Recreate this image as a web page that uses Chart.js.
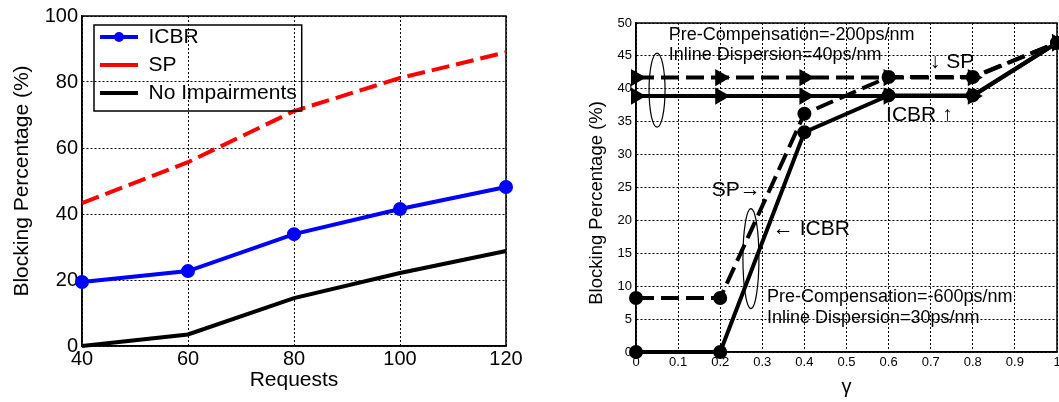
<!DOCTYPE html>
<html>
<head>
<meta charset="utf-8">
<script src="https://cdn.jsdelivr.net/npm/chart.js@4.4.1/dist/chart.umd.min.js"></script>
<style>
  html, body { margin: 0; padding: 0; background: #fff; overflow: hidden; }
  body { width: 1059px; height: 402px; position: relative; }
  canvas { position: absolute; top: 0; }
  #requestsChart { left: 0; }
  #gammaChart { left: 560px; }
</style>
</head>
<body>
<canvas id="requestsChart" width="530" height="402"></canvas>
<canvas id="gammaChart" width="510" height="402"></canvas>
<script>
// left plot: blocking vs number of requests
const requests = [40, 60, 80, 100, 120];
const icbrBlocking = [19.4, 22.7, 33.9, 41.5, 48.2];
const spBlocking = [43.3, 55.7, 71.2, 81.2, 89.0];
const noImpBlocking = [0, 3.5, 14.5, 22.1, 28.8];

// right plot: blocking vs gamma
const gamma = [0, 0.2, 0.4, 0.6, 0.8, 1];
const sp600 = [8.2, 8.2, 36.2, 41.8, 41.8, 47];
const icbr600 = [0, 0, 33.4, 39, 39, 47];
const sp200 = [41.7, 41.7, 41.7, 41.7, 41.7, 47];
const icbr200 = [38.9, 38.9, 38.9, 38.9, 38.9, 47];

Chart.defaults.font.family = '"Liberation Sans", Arial, sans-serif';
Chart.defaults.color = '#000';

const toXY = (xs, ys) => xs.map((x, i) => ({ x: x, y: ys[i] }));

// solid box round the plot area (matlab style)
const frame = {
  id: 'frame',
  beforeDatasetsDraw(chart) {
    const { ctx, chartArea: a } = chart;
    ctx.save();
    ctx.strokeStyle = '#000';
    ctx.lineWidth = 1.5;
    ctx.strokeRect(a.left, a.top, a.right - a.left, a.bottom - a.top);
    ctx.restore();
  }
};

function gridScale(min, max, step, fontSize, pad) {
  return {
    type: 'linear', min: min, max: max,
    ticks: { stepSize: step, font: { size: fontSize }, color: '#000', padding: pad },
    grid: { color: '#000', lineWidth: 1, drawTicks: false },
    border: { display: true, color: '#000', width: 1.5, dash: [2, 2] }
  };
}

// legend sits inside the plot, with a box and a marker on the ICBR entry
const legendBox = {
  id: 'legendBox',
  afterLayout(chart) {
    const lg = chart.legend;
    lg.left = chart.chartArea.left + 11;
    lg.top = chart.chartArea.top + 3.5;
    lg.right = lg.left + lg.width;
    lg.bottom = lg.top + lg.height;
  },
  afterDraw(chart) {
    const boxes = chart.legend.legendHitBoxes;
    if (!boxes.length) return;
    const ctx = chart.ctx;
    const first = boxes[0], last = boxes[boxes.length - 1];
    const right = Math.max(...boxes.map(b => b.left + b.width));
    ctx.save();
    ctx.strokeStyle = '#000';
    ctx.lineWidth = 1.5;
    ctx.strokeRect(first.left - 6, first.top - 1.5, right + 5 - (first.left - 6), last.top + last.height + 7.5 - (first.top - 1.5));
    ctx.fillStyle = '#0000ff';
    ctx.beginPath();
    ctx.arc(first.left + 19, first.top + 10.5, 5, 0, Math.PI * 2);
    ctx.fill();
    ctx.restore();
  }
};

const leftX = gridScale(40, 120, 20, 20, 1);
leftX.title = { display: true, text: 'Requests', font: { size: 21 }, color: '#000', padding: { top: 0, bottom: 9 } };
leftX.afterFit = s => { s.height = 56; };
const leftY = gridScale(0, 100, 20, 20, 4);
leftY.title = { display: true, text: 'Blocking Percentage (%)', font: { size: 21 }, color: '#000', padding: { top: 10, bottom: 0 } };
leftY.afterFit = s => { s.width = 82; };

new Chart(document.getElementById('requestsChart'), {
  type: 'line',
  data: {
    datasets: [
      {
        label: 'ICBR', data: toXY(requests, icbrBlocking),
        borderColor: '#0000ff', backgroundColor: '#0000ff', borderWidth: 4,
        pointRadius: 5, pointBackgroundColor: '#0000ff', pointBorderColor: '#0000ff', clip: false
      },
      {
        label: 'SP', data: toXY(requests, spBlocking),
        borderColor: '#ff0000', backgroundColor: '#ff0000', borderWidth: 4, borderDash: [18, 7],
        pointRadius: 0, clip: false
      },
      {
        label: 'No Impairments', data: toXY(requests, noImpBlocking),
        borderColor: '#000', backgroundColor: '#000', borderWidth: 4,
        pointRadius: 0, clip: false
      }
    ]
  },
  options: {
    responsive: false,
    animation: false,
    layout: { padding: { top: 16, right: 24, left: 0, bottom: 0 } },
    scales: { x: leftX, y: leftY },
    plugins: {
      legend: {
        position: 'chartArea',
        align: 'start',
        labels: {
          usePointStyle: true,
          pointStyleWidth: 38,
          padding: 7,
          color: '#000',
          font: { size: 21 },
          generateLabels: chart => Chart.defaults.plugins.legend.labels.generateLabels(chart)
            .map(item => Object.assign(item, { pointStyle: 'line', rotation: 0 }))
        }
      },
      tooltip: { enabled: false }
    }
  },
  plugins: [frame, legendBox]
});

// text, arrows and ellipses written on the right plot
const notes = {
  id: 'notes',
  afterDatasetsDraw(chart) {
    const { ctx, scales: { x, y } } = chart;
    const put = (text, gx, gy, size) => {
      ctx.font = size + 'px "Liberation Sans", Arial, sans-serif';
      ctx.fillText(text, x.getPixelForValue(gx), y.getPixelForValue(gy));
    };
    ctx.save();
    ctx.fillStyle = '#000';
    ctx.textAlign = 'left';
    ctx.textBaseline = 'middle';
    put('Pre-Compensation=-200ps/nm', 0.078, 48.1, 18);
    put('Inline Dispersion=40ps/nm', 0.078, 45.1, 18);
    put('\u2193 SP', 0.698, 44.0, 21);
    put('ICBR \u2191', 0.594, 36.0, 21);
    put('SP\u2192', 0.18, 24.6, 21);
    put('\u2190 ICBR', 0.325, 18.6, 21);
    put('Pre-Compensation=-600ps/nm', 0.311, 8.3, 18);
    put('Inline Dispersion=30ps/nm', 0.311, 5.1, 18);
    ctx.strokeStyle = '#000';
    ctx.lineWidth = 1.2;
    ctx.beginPath();
    ctx.ellipse(x.getPixelForValue(0.05), y.getPixelForValue(39.8), 8, 37, 0, 0, Math.PI * 2);
    ctx.stroke();
    ctx.beginPath();
    ctx.ellipse(x.getPixelForValue(0.273), y.getPixelForValue(14.2), 8, 50, 0, 0, Math.PI * 2);
    ctx.stroke();
    ctx.restore();
  }
};

const rightX = gridScale(0, 1, 0.1, 13, 3);
rightX.ticks.callback = v => +v.toFixed(1);
rightX.title = { display: true, text: '\u03b3', font: { size: 20 }, color: '#000', padding: { top: 0, bottom: 3 } };
rightX.afterFit = s => { s.height = 50; };
const rightY = gridScale(0, 50, 5, 13, 4);
rightY.title = { display: true, text: 'Blocking Percentage (%)      ', font: { size: 18.5 }, color: '#000', padding: { top: 26, bottom: 0 } };
rightY.afterFit = s => { s.width = 76; };

const blackLine = (label, ys, dashed, marker) => ({
  label: label, data: toXY(gamma, ys),
  borderColor: '#000', backgroundColor: '#000', borderWidth: 4,
  borderDash: dashed ? [18, 7] : [],
  pointStyle: marker, pointRadius: marker === 'triangle' ? 6 : 5,
  pointRotation: marker === 'triangle' ? 90 : 0,
  pointBackgroundColor: '#000', pointBorderColor: '#000', clip: false
});

new Chart(document.getElementById('gammaChart'), {
  type: 'line',
  data: {
    datasets: [
      blackLine('SP, Pre-Compensation=-600ps/nm', sp600, true, 'circle'),
      blackLine('ICBR, Pre-Compensation=-600ps/nm', icbr600, false, 'circle'),
      blackLine('SP, Pre-Compensation=-200ps/nm', sp200, true, 'triangle'),
      blackLine('ICBR, Pre-Compensation=-200ps/nm', icbr200, false, 'triangle')
    ]
  },
  options: {
    responsive: false,
    animation: false,
    layout: { padding: { top: 23, right: 13, left: 0, bottom: 0 } },
    scales: { x: rightX, y: rightY },
    plugins: { legend: { display: false }, tooltip: { enabled: false } }
  },
  plugins: [frame, notes]
});
</script>
</body>
</html>
